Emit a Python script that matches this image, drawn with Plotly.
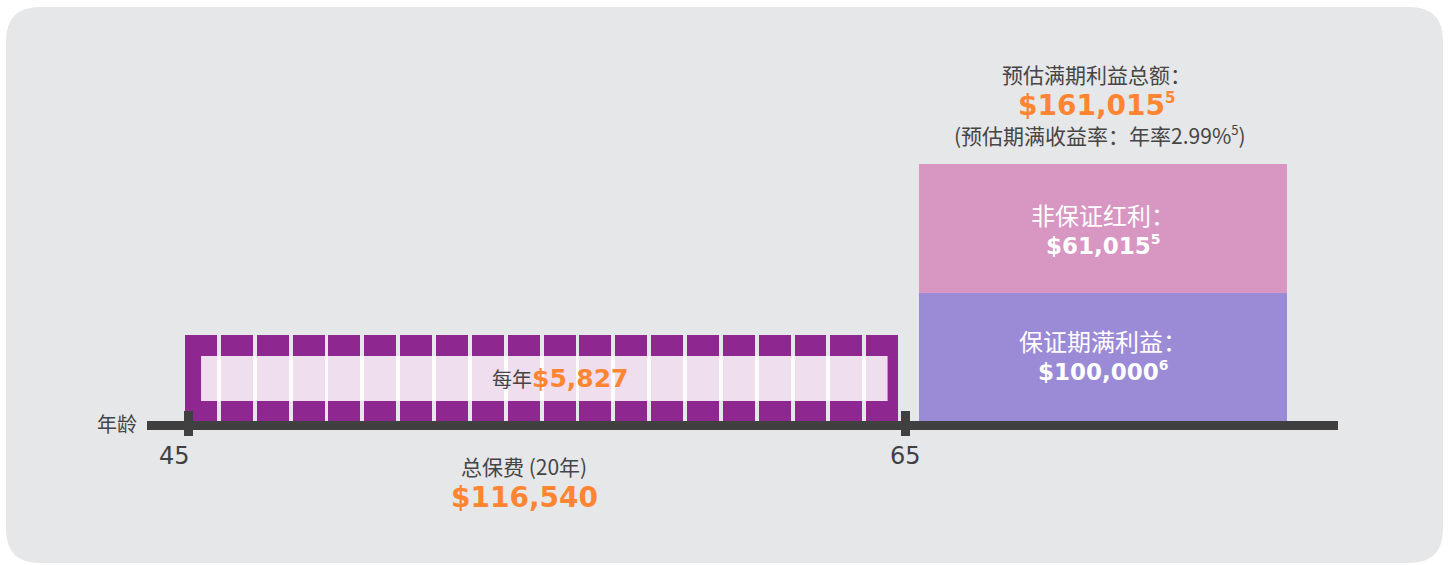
import plotly.graph_objects as go

# ---------------- data ----------------
tick_ages = [45, 65]
tick_labels = ["45", "65"]
premium_years = [45, 46, 47, 48, 49, 50, 51, 52, 53, 54,
                 55, 56, 57, 58, 59, 60, 61, 62, 63, 64]
annual_premium = 5827
total_premium = 116540
premium_term_label = "总保费 (20年)"
benefit_labels = ["保证期满利益", "非保证红利"]
benefit_values = [100000, 61015]
benefit_notes = ["6", "5"]
total_benefit = 161015
total_benefit_note = "5"
total_benefit_label = "预估满期利益总额："
annual_return = 2.99
axis_title = "年龄"

# ---------------- styles ----------------
W, H = 1450, 565
BG = "#e6e7e9"
PURPLE = "#8e278f"
PINK = "#d896c2"
LAVENDER = "#9b8ad6"
ORANGE = "#ff8533"
GREY = "#454545"
AXIS = "#404040"
CJK = "Noto Sans CJK SC"
NUM = "DejaVu Sans"

# pixel <-> data mapping (schematic infographic scale)
PX45, PX_PER_YEAR = 188.5, 35.85
Y0PX = 421.0
x_lo = 45 - PX45 / PX_PER_YEAR
x_hi = 45 + (W - PX45) / PX_PER_YEAR
y_lo, y_hi = Y0PX - H, Y0PX


def px_x(p):
    return 45 + (p - PX45) / PX_PER_YEAR


def px_y(p):
    return Y0PX - p


premium_block_h = 86
benefit_block_h = [128, 129]
bar_center = px_x(1103)
bar_width = 368 / PX_PER_YEAR

fig = go.Figure()

# premium payment blocks (one per year)
fig.add_trace(go.Bar(
    x=premium_years, y=[premium_block_h] * len(premium_years), base=0,
    width=0.89, offset=-0.095, marker=dict(color=PURPLE, line=dict(width=0)),
    hoverinfo="skip", showlegend=False))

# stacked maturity benefit bar
bases = [0, benefit_block_h[0]]
colors = [LAVENDER, PINK]
for i in range(2):
    fig.add_trace(go.Bar(
        x=[bar_center], y=[benefit_block_h[i]], base=bases[i], width=bar_width,
        marker=dict(color=colors[i], line=dict(width=0)),
        hoverinfo="skip", showlegend=False))


# rounded background panel
def rounded(x0, y0, x1, y1, r):
    X = lambda p: px_x(p)
    Y = lambda p: px_y(p)
    return (f"M {X(x0 + r)} {Y(y0)} L {X(x1 - r)} {Y(y0)} "
            f"Q {X(x1)} {Y(y0)} {X(x1)} {Y(y0 + r)} L {X(x1)} {Y(y1 - r)} "
            f"Q {X(x1)} {Y(y1)} {X(x1 - r)} {Y(y1)} L {X(x0 + r)} {Y(y1)} "
            f"Q {X(x0)} {Y(y1)} {X(x0)} {Y(y1 - r)} L {X(x0)} {Y(y0 + r)} "
            f"Q {X(x0)} {Y(y0)} {X(x0 + r)} {Y(y0)} Z")


shapes = [
    dict(type="path", path=rounded(6, 7, 1443, 563, 34), fillcolor=BG,
         line=dict(width=0), layer="below", xref="x", yref="y"),
    # translucent inner strip of premium blocks
    dict(type="rect", x0=tick_ages[0] + 0.35, x1=tick_ages[1] - 0.5,
         y0=20, y1=65, fillcolor="white", opacity=0.85,
         line=dict(width=0), layer="above", xref="x", yref="y"),
    # age axis
    dict(type="line", x0=px_x(147), x1=px_x(1338), y0=-4.5, y1=-4.5,
         line=dict(color=AXIS, width=9), layer="above", xref="x", yref="y"),
]
for a in tick_ages:
    shapes.append(dict(type="line", x0=a, x1=a, y0=10, y1=-15,
                       line=dict(color=AXIS, width=9), layer="above",
                       xref="x", yref="y"))

ann = []


def txt(x, y, text, size, color, family=CJK):
    ann.append(dict(x=x, y=y, xref="x", yref="y", text=text, showarrow=False,
                    font=dict(size=size, color=color, family=family),
                    xanchor="center", yanchor="middle"))


def sup(s, size):
    return f"<sup><span style='font-size:{size}px'>{s}</span></sup>"


txt(px_x(116.5), -2, axis_title, 20, GREY)
txt(tick_ages[0] - 0.4, -35, tick_labels[0], 24, AXIS, NUM)
txt(tick_ages[1], -35, tick_labels[1], 24, AXIS, NUM)

mid_prem = px_x(524)
txt(mid_prem, -45, premium_term_label, 21, GREY)
txt(mid_prem, -76, f"<b>${total_premium:,}</b>", 28, ORANGE, NUM)
txt(px_x(560), 43,
    f"<span style='font-family:{CJK};font-size:20px;color:{GREY}'>每年</span>"
    f"<b>${annual_premium:,}</b>", 25, ORANGE, NUM)

top_x = px_x(1096)
txt(top_x, 347, total_benefit_label, 21, GREY)
txt(top_x, 316, f"<b>${total_benefit:,}{sup(total_benefit_note, 15)}</b>",
    28, ORANGE, NUM)
txt(px_x(1100), 286,
    f"(预估期满收益率：年率{annual_return:.2f}%{sup(total_benefit_note, 13)})",
    21, GREY)

label_y = [81, 207]
value_y = [50, 176]
for i in range(2):
    txt(bar_center, label_y[i], benefit_labels[i] + "：", 24, "white")
    txt(bar_center, value_y[i],
        f"<b>${benefit_values[i]:,}{sup(benefit_notes[i], 14)}</b>",
        23, "white", NUM)

fig.update_layout(
    width=W, height=H, margin=dict(l=0, r=0, t=0, b=0, pad=0),
    paper_bgcolor="white", plot_bgcolor="rgba(0,0,0,0)",
    barmode="overlay", bargap=0,
    xaxis=dict(range=[x_lo, x_hi], visible=False, fixedrange=True),
    yaxis=dict(range=[y_lo, y_hi], visible=False, fixedrange=True),
    shapes=shapes, annotations=ann, showlegend=False,
)

fig.write_html("out.html", config={"displayModeBar": False},
               post_script="document.body.style.margin='0px';")
